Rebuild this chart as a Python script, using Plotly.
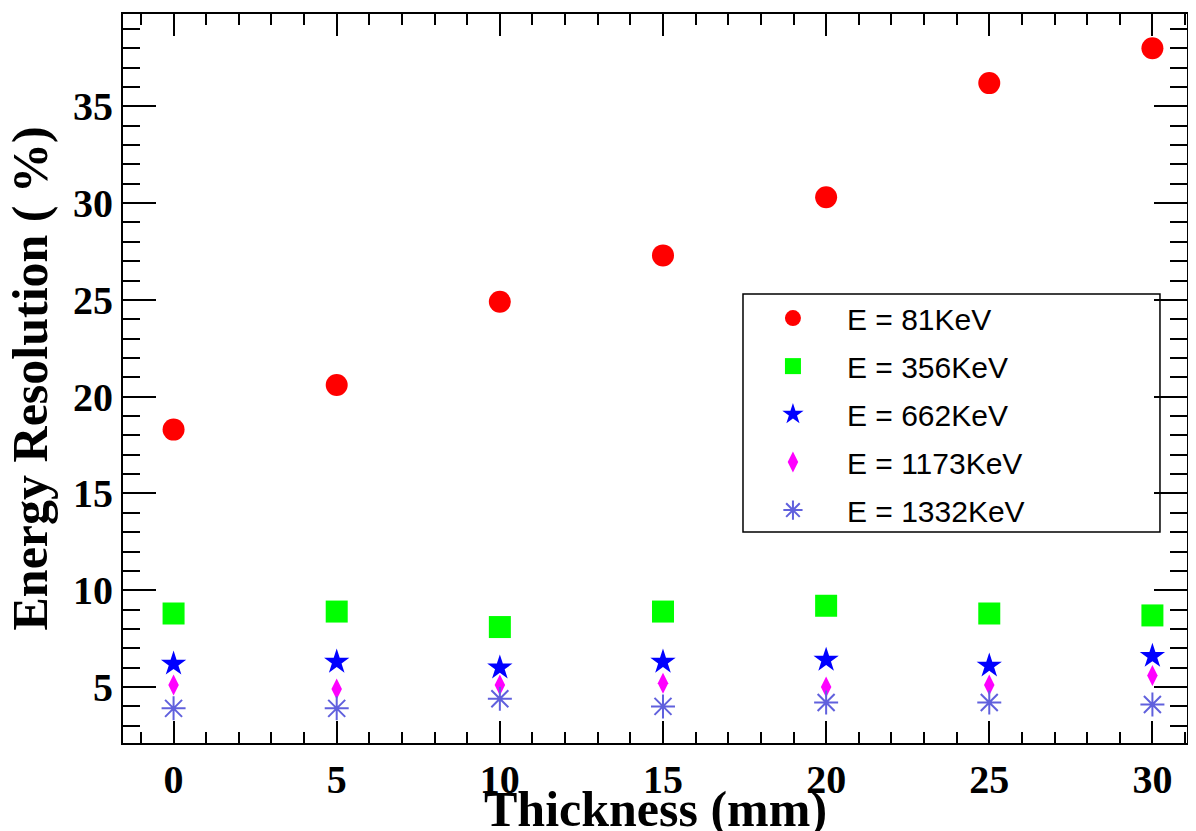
import plotly.graph_objects as go

thickness = [0, 5, 10, 15, 20, 25, 30]
res_81 = [18.3, 20.6, 24.9, 27.3, 30.3, 36.2, 38.0]
res_356 = [8.8, 8.9, 8.1, 8.9, 9.2, 8.8, 8.7]
res_662 = [6.2, 6.3, 6.0, 6.3, 6.4, 6.1, 6.6]
res_1173 = [5.1, 4.9, 5.1, 5.2, 5.0, 5.1, 5.6]
res_1332 = [3.9, 3.9, 4.4, 4.0, 4.2, 4.2, 4.1]
names = ["E = 81KeV", "E = 356KeV", "E = 662KeV", "E = 1173KeV", "E = 1332KeV"]
x_title = "Thickness (mm)"
y_title = "Energy Resolution ( %)"

series = [res_81, res_356, res_662, res_1173, res_1332]
styles = [
    dict(symbol="circle", size=22, color="#ff0000"),
    dict(symbol="square", size=22, color="#00ff00"),
    dict(symbol="star", size=19, color="#0000ff"),
    dict(symbol="diamond-tall", size=15, color="#ff00ff"),
    dict(symbol="asterisk-open", size=20, color="#6060dd", line=dict(color="#6060dd", width=2)),
]

fig = go.Figure()
for i, (vals, nm, st) in enumerate(zip(series, names, styles)):
    mk = dict(st)
    if "line" not in mk:
        mk["line"] = dict(width=0)
    fig.add_trace(go.Scatter(x=thickness, y=vals, mode="markers", name=nm,
                             marker=mk, legendgroup=f"g{i}"))

tickfont = dict(family="Liberation Serif", size=40, color="black", weight="bold")
titlefont = dict(family="Liberation Serif", size=50, color="black", weight="bold")

# page body has an 8px margin; figure is sized/margined so the plot area lands as in the reference
fig.update_layout(
    width=1188, height=823,
    margin=dict(l=115, r=9, t=6, b=88, autoexpand=False),
    paper_bgcolor="white", plot_bgcolor="white",
    showlegend=True,
    legend=dict(x=0.5789, y=0.6185, xanchor="left", yanchor="top",
                bgcolor="rgba(0,0,0,0)", borderwidth=0,
                font=dict(family="Liberation Sans", size=30, color="black"),
                tracegroupgap=6, itemwidth=98),
    shapes=[dict(type="rect", xref="paper", yref="paper",
                 x0=0.5827, x1=0.9746, y0=0.2894, y1=0.6159,
                 line=dict(color="black", width=1.5))],
    annotations=[
        dict(text=x_title, xref="paper", yref="paper", x=0.5, y=0,
             xanchor="center", yanchor="top", yshift=-36, showarrow=False, font=titlefont),
        dict(text=y_title, xref="paper", yref="paper", x=0, y=0.5, textangle=-90,
             xanchor="right", yanchor="middle", xshift=-64, showarrow=False, font=titlefont),
    ],
)

fig.update_xaxes(
    range=[-1.55, 31.06], tickmode="linear", tick0=0, dtick=5,
    ticks="inside", ticklen=22, tickwidth=2, tickcolor="black",
    minor=dict(dtick=1, tick0=0, ticks="inside", ticklen=11, tickwidth=2, tickcolor="black", showgrid=False),
    showline=True, linecolor="black", linewidth=2, mirror="allticks",
    showgrid=False, zeroline=False, tickfont=tickfont,
)
fig.update_yaxes(
    range=[2.11, 39.77], tickmode="linear", tick0=0, dtick=5,
    ticks="inside", ticklen=33, tickwidth=2, tickcolor="black",
    minor=dict(dtick=1, tick0=0, ticks="inside", ticklen=17, tickwidth=2, tickcolor="black", showgrid=False),
    showline=True, linecolor="black", linewidth=2, mirror="allticks",
    showgrid=False, zeroline=False, tickfont=tickfont,
)

fig.write_html("out.html")
